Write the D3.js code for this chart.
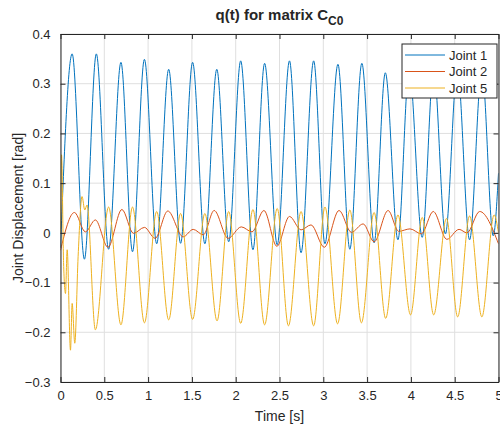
<!DOCTYPE html>
<html lang="en">
<head>
    <meta charset="UTF-8">
    <title>q(t) for matrix C_C0</title>
    <script src="https://d3js.org/d3.v7.min.js"></script>
    <style>
        body{
            margin: 0;
            background: #ffffff;
        }
        text{
            font-family: "Liberation Sans", Arial, sans-serif;
            fill: #262626;
        }
    </style>
</head>
<body>
<svg id="main" width="500" height="427"></svg>

<script>
    // axis ticks
    let xTicks = [0, 0.5, 1, 1.5, 2, 2.5, 3, 3.5, 4, 4.5, 5]
    let yTicks = [-0.3, -0.2, -0.1, 0, 0.1, 0.2, 0.3, 0.4]
    let seriesNames = ["Joint 1", "Joint 2", "Joint 5"]
    let seriesColors = ["#0072BD", "#D95319", "#EDB120"]

    // [time s, displacement rad] read at the turning points of each curve
    let joint1 = [
        [0, -0.03], [0.133, 0.360], [0.273, -0.053], [0.409, 0.360], [0.549, -0.033],
        [0.69, 0.343], [0.822, -0.038], [0.958, 0.349], [1.098, -0.022], [1.235, 0.329],
        [1.371, -0.021], [1.508, 0.343], [1.648, -0.022], [1.784, 0.329], [1.92, -0.018],
        [2.057, 0.346], [2.197, -0.034], [2.33, 0.341], [2.474, -0.024], [2.614, 0.346],
        [2.746, -0.040], [2.89, 0.346], [3.019, -0.022], [3.167, 0.339], [3.303, -0.033],
        [3.44, 0.341], [3.58, -0.020], [3.708, 0.322], [3.852, -0.014], [3.98, 0.33],
        [4.129, -0.009], [4.26, 0.33], [4.394, -0.002], [4.53, 0.33], [4.67, -0.014],
        [4.81, 0.33], [4.94, -0.006], [5.0, 0.12]
    ]
    let joint2 = [
        [0, -0.035], [0.159, 0.041], [0.284, 0.002], [0.398, 0.026], [0.542, -0.029],
        [0.701, 0.047], [0.833, -0.001], [0.958, 0.011], [1.08, -0.011], [1.225, 0.044],
        [1.40, -0.008], [1.515, 0.007], [1.63, -0.004], [1.754, 0.045], [1.913, -0.011],
        [2.064, 0.012], [2.186, 0.002], [2.322, 0.045], [2.47, -0.027], [2.614, 0.033],
        [2.746, 0.006], [2.86, 0.016], [3.011, -0.029], [3.18, 0.045], [3.32, 0.001],
        [3.455, 0.018], [3.58, -0.018], [3.74, 0.045], [3.86, 0.003], [3.99, 0.008],
        [4.12, -0.002], [4.255, 0.043], [4.41, -0.013], [4.55, 0.007], [4.64, 0.0],
        [4.785, 0.043], [5.0, -0.022]
    ]
    let joint5 = [
        [0, 0.0], [0.012, 0.157], [0.035, -0.06], [0.057, -0.122], [0.076, -0.034],
        [0.114, -0.236], [0.133, -0.142], [0.163, -0.222], [0.201, -0.048], [0.246, 0.073],
        [0.277, 0.046], [0.303, 0.056], [0.398, -0.195], [0.549, 0.052], [0.69, -0.185],
        [0.822, 0.052], [0.958, -0.181], [1.098, 0.043], [1.235, -0.175], [1.371, 0.039],
        [1.508, -0.174], [1.648, 0.039], [1.787, -0.177], [1.92, 0.043], [2.057, -0.182],
        [2.197, 0.047], [2.33, -0.185], [2.474, 0.049], [2.602, -0.187], [2.746, 0.043],
        [2.89, -0.187], [3.019, 0.052], [3.163, -0.183], [3.303, 0.046], [3.435, -0.181],
        [3.58, 0.041], [3.712, -0.172], [3.852, 0.036], [3.996, -0.165], [4.129, 0.031],
        [4.26, -0.165], [4.406, 0.029], [4.534, -0.169], [4.67, 0.034], [4.81, -0.169],
        [4.95, 0.036], [5.0, 0.0]
    ]
    let allSeries = [joint1, joint2, joint5]

    let pLeft = 60.5, pRight = 498.5, pTop = 34, pBottom = 382
    let svg = d3.select("#main")

    let x = d3.scaleLinear().domain([0, 5]).range([pLeft, pRight])
    let y = d3.scaleLinear().domain([-0.3, 0.4]).range([pBottom, pTop])

    // grid
    let grid = svg.append("g")
    grid.selectAll(".vg").data(xTicks).join("line")
        .attr("x1", d => x(d)).attr("x2", d => x(d))
        .attr("y1", pTop).attr("y2", pBottom)
        .attr("stroke", "#dfdfdf").attr("stroke-width", 1)
    grid.selectAll(".hg").data(yTicks).join("line")
        .attr("x1", pLeft).attr("x2", pRight)
        .attr("y1", d => y(d)).attr("y2", d => y(d))
        .attr("stroke", "#dfdfdf").attr("stroke-width", 1)

    // lines
    svg.append("clipPath").attr("id", "clip")
        .append("rect").attr("x", pLeft).attr("y", pTop)
        .attr("width", pRight - pLeft).attr("height", pBottom - pTop)

    let line = d3.line()
        .x(d => x(d[0]))
        .y(d => y(d[1]))
        .curve(d3.curveMonotoneX)

    svg.append("g").attr("clip-path", "url(#clip)")
        .selectAll("path").data(allSeries).join("path")
        .attr("d", line)
        .attr("fill", "none")
        .attr("stroke", (d, i) => seriesColors[i])
        .attr("stroke-width", 1)

    // axes, ticks inside, box on all sides
    let tickLen = 5
    svg.append("g").attr("transform", `translate(0,${pBottom})`)
        .call(d3.axisBottom(x).tickValues(xTicks).tickSizeInner(-tickLen).tickSizeOuter(0)
            .tickPadding(9).tickFormat(d3.format("")))
    svg.append("g").attr("transform", `translate(0,${pTop})`)
        .call(d3.axisTop(x).tickValues(xTicks).tickSizeInner(-tickLen).tickSizeOuter(0).tickFormat(""))
    svg.append("g").attr("transform", `translate(${pLeft},0)`)
        .call(d3.axisLeft(y).tickValues(yTicks).tickSizeInner(-tickLen).tickSizeOuter(0)
            .tickPadding(10).tickFormat(d3.format("")))
    svg.append("g").attr("transform", `translate(${pRight},0)`)
        .call(d3.axisRight(y).tickValues(yTicks).tickSizeInner(-tickLen).tickSizeOuter(0).tickFormat(""))

    svg.selectAll(".domain").attr("stroke", "#262626")
    svg.selectAll(".tick line").attr("stroke", "#262626")
    svg.selectAll(".tick text")
        .attr("font-size", 13)
        .attr("font-family", "Liberation Sans, Arial, sans-serif")
        .attr("fill", "#262626")

    // title
    let title = svg.append("text")
        .attr("x", (pLeft + pRight) / 2)
        .attr("y", 20)
        .attr("text-anchor", "middle")
        .attr("font-size", 15)
        .attr("font-weight", "bold")
    title.append("tspan").text("q(t) for matrix C")
    title.append("tspan").attr("dy", 5).attr("font-size", 12).text("C0")

    // axis labels
    svg.append("text")
        .attr("x", (pLeft + pRight) / 2)
        .attr("y", 421)
        .attr("text-anchor", "middle")
        .attr("font-size", 14)
        .text("Time [s]")
    svg.append("text")
        .attr("transform", `translate(23,${(pTop + pBottom) / 2}) rotate(-90)`)
        .attr("text-anchor", "middle")
        .attr("font-size", 14)
        .text("Joint Displacement [rad]")

    // legend
    let legend = svg.append("g").attr("transform", "translate(402,44)")
    legend.append("rect")
        .attr("width", 95).attr("height", 54)
        .attr("fill", "#ffffff")
        .attr("stroke", "#262626").attr("stroke-width", 1)
    let rows = legend.selectAll(".row").data(seriesNames).join("g")
        .attr("transform", (d, i) => `translate(0,${11 + i * 16.5})`)
    rows.append("line")
        .attr("x1", 3).attr("x2", 43)
        .attr("stroke", (d, i) => seriesColors[i])
        .attr("stroke-width", 1)
    rows.append("text")
        .attr("x", 47).attr("dy", "0.35em")
        .attr("font-size", 13)
        .text(d => d)
</script>

</body>
</html>
